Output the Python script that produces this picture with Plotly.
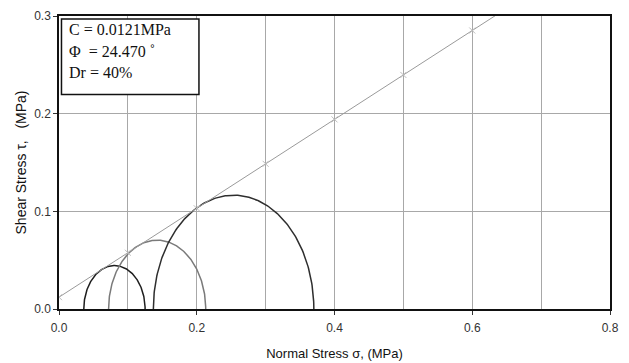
import numpy as np
import plotly.graph_objects as go

# Mohr-Coulomb strength parameters
cohesion = 0.0121      # MPa
phi_deg = 24.470       # friction angle, degrees
relative_density = "40%"

# Principal stresses of each test (MPa)
sigma3 = [0.036, 0.072, 0.137]
sigma1 = [0.125, 0.213, 0.370]
circle_colors = ["#1e1e1e", "#7a7a7a", "#2e2e2e"]

# Envelope marker positions and end point (MPa)
env_marks = [0.0, 0.1, 0.2, 0.3, 0.4, 0.5, 0.6]
env_end = 0.636

fig = go.Figure()

# Mohr circles (upper halves)
theta = np.linspace(0, np.pi, 181)
for s3, s1, col in zip(sigma3, sigma1, circle_colors):
    c = (s1 + s3) / 2
    r = (s1 - s3) / 2
    fig.add_trace(go.Scatter(
        x=c - r * np.cos(theta), y=r * np.sin(theta),
        mode="lines", line=dict(color=col, width=1.5),
        showlegend=False, hoverinfo="skip"))

# Failure envelope tau = c + sigma * tan(phi)
tanphi = np.tan(np.radians(phi_deg))
env_x = [0.0, env_end]
fig.add_trace(go.Scatter(
    x=env_x, y=[cohesion + s * tanphi for s in env_x],
    mode="lines", line=dict(color="#9a9a9a", width=1),
    showlegend=False, hoverinfo="skip"))
fig.add_trace(go.Scatter(
    x=env_marks, y=[cohesion + s * tanphi for s in env_marks],
    mode="markers",
    marker=dict(symbol="x-thin-open", size=6, color="#bdbdbd",
                line=dict(color="#bdbdbd", width=1)),
    showlegend=False, hoverinfo="skip"))

axis_font = dict(family="Liberation Sans, Arial, sans-serif", size=12, color="#333")
title_font = dict(family="Liberation Sans, Arial, sans-serif", size=13, color="#111")

fig.update_layout(
    width=629, height=363,
    margin=dict(l=58.5, r=19, t=16, b=53.7),
    paper_bgcolor="white", plot_bgcolor="white",
    xaxis=dict(
        range=[0, 0.8], dtick=0.2, tickformat=".1f", automargin=False,
        showgrid=True, gridcolor="#a8a8a8", gridwidth=1,
        minor=dict(dtick=0.1, showgrid=True, gridcolor="#a8a8a8", gridwidth=1),
        ticks="outside", ticklen=4, tickcolor="#333", ticklabelstandoff=3,
        showline=True, linecolor="#111", linewidth=1.5, mirror=True,
        zeroline=False, tickfont=axis_font,
        title=dict(text="Normal Stress σ, (MPa)", font=title_font, standoff=15),
    ),
    yaxis=dict(
        range=[0, 0.3], dtick=0.1, tickformat=".1f", automargin=False,
        showgrid=True, gridcolor="#a8a8a8", gridwidth=1,
        ticks="outside", ticklen=4, tickcolor="#333",
        showline=True, linecolor="#111", linewidth=1.5, mirror=True,
        zeroline=False, tickfont=axis_font,
        title=dict(text="Shear Stress τ,\u00a0\u00a0\u00a0(MPa)",
                   font=dict(family="Liberation Sans, Arial, sans-serif", size=14, color="#111"),
                   standoff=4),
    ),
)

# Parameter box
fig.add_shape(type="rect", xref="paper", yref="paper",
              x0=0.0045, x1=0.254, y0=0.732, y1=0.99,
              line=dict(color="#111", width=1.5), fillcolor="white", layer="above")
box_lines = [f"C = {cohesion}MPa", f"Φ  = {phi_deg:.3f} ˚", f"Dr = {relative_density}"]
box_y = [0.955, 0.879, 0.806]
for txt, yy in zip(box_lines, box_y):
    fig.add_annotation(text=txt, xref="paper", yref="paper", x=0.0154, y=yy,
                       xanchor="left", yanchor="middle", showarrow=False,
                       font=dict(family="Liberation Serif, Times New Roman, serif",
                                 size=16, color="#111"))

fig.write_html("out.html")
